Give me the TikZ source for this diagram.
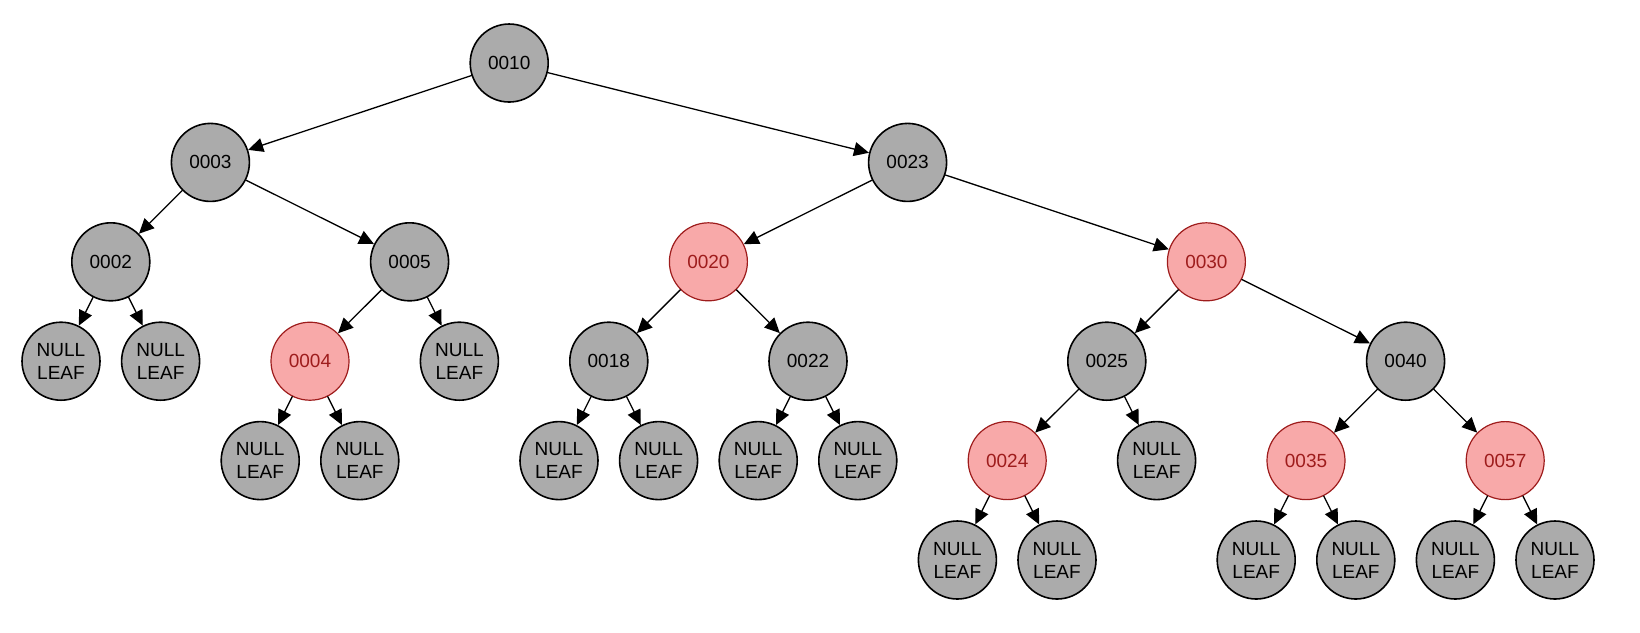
\documentclass[tikz,border=0pt]{standalone}
\usepackage{fontspec}
\setmainfont{Liberation Sans}
\usetikzlibrary{arrows.meta}

\definecolor{nodegray}{HTML}{ABABAB}
\definecolor{rbfill}{HTML}{F8A9A9}
\definecolor{rbline}{HTML}{9E1C1C}

\begin{document}
\begin{tikzpicture}[
	x=49.8pt,
	y=-99.4pt,
	line cap=round,
	line join=round,
	every node/.style={circle, minimum size=78pt, inner sep=0pt, align=center,
		font=\fontsize{19}{23}\selectfont},
	blknode/.style={fill=nodegray, draw=black, line width=1.6pt},
	rbnode/.style={fill=rbfill, draw=rbline, line width=1.2pt, text=rbline},
	leaf/.style={blknode},
	edge/.style={-{Triangle[length=15pt,width=14pt]}, line width=1.3pt}
	]
	
	\useasboundingbox (-1.225,-0.634) rectangle (31.707,5.734);
	
	% black nodes
	\node[blknode] (n10) at (9,0) {0010};
	\node[blknode] (n3) at (3,1) {0003};
	\node[blknode] (n23) at (17,1) {0023};
	\node[blknode] (n2) at (1,2) {0002};
	\node[blknode] (n5) at (7,2) {0005};
	\node[blknode] (n18) at (11,3) {0018};
	\node[blknode] (n22) at (15,3) {0022};
	\node[blknode] (n25) at (21,3) {0025};
	\node[blknode] (n40) at (27,3) {0040};
	
	% red nodes
	\node[rbnode] (n20) at (13,2) {0020};
	\node[rbnode] (n30) at (23,2) {0030};
	\node[rbnode] (n4) at (5,3) {0004};
	\node[rbnode] (n24) at (19,4) {0024};
	\node[rbnode] (n35) at (25,4) {0035};
	\node[rbnode] (n57) at (29,4) {0057};
	
	% null leaves
	\foreach \k/\lvl in {0/3,2/3,4/4,6/4,8/3,10/4,12/4,14/4,16/4,18/5,20/5,22/4,24/5,26/5,28/5,30/5}
	\node[leaf] (lf\k) at (\k,\lvl) {NULL\\LEAF};
	
	% edges
	\foreach \a/\b in {n10/n3, n10/n23, n3/n2, n3/n5, n23/n20, n23/n30,
		n2/lf0, n2/lf2, n5/n4, n5/lf8, n4/lf4, n4/lf6,
		n20/n18, n20/n22, n18/lf10, n18/lf12, n22/lf14, n22/lf16,
		n30/n25, n30/n40, n25/n24, n25/lf22, n24/lf18, n24/lf20,
		n40/n35, n40/n57, n35/lf24, n35/lf26, n57/lf28, n57/lf30}
	\draw[edge] (\a) -- (\b);
	
\end{tikzpicture}
\end{document}
